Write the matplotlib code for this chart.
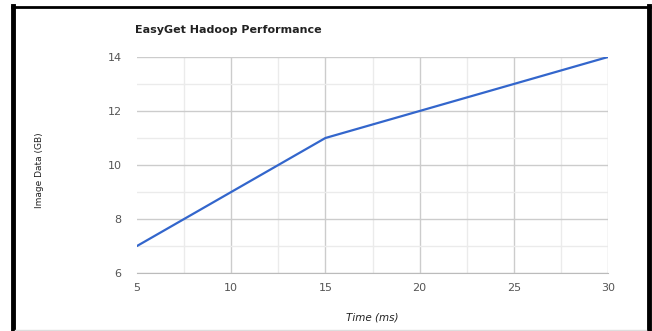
import matplotlib
matplotlib.use('Agg')
from matplotlib import pyplot as plt
from matplotlib.lines import Line2D

time_ms = [5, 10, 15, 20, 25, 30]
image_data = [7, 9, 11, 12, 13, 14]
x_ticks = [5, 10, 15, 20, 25, 30]
y_ticks = [6, 8, 10, 12, 14]

W, H = 652, 331
fig = plt.figure(figsize=(W / 100, H / 100), dpi=100)
ax = fig.add_axes([137 / W, 1 - 273 / H, 471 / W, 216 / H])

ax.plot(time_ms, image_data, color='#3366cc', linewidth=1.6, solid_capstyle='round')
ax.set_xlim(5, 30)
ax.set_ylim(6, 14)
ax.set_xticks(x_ticks)
ax.set_yticks(y_ticks)
ax.set_xticks([7.5, 12.5, 17.5, 22.5, 27.5], minor=True)
ax.set_yticks([7, 9, 11, 13], minor=True)
ax.grid(which='major', color='#cccccc', linewidth=1)
ax.grid(which='minor', color='#ebebeb', linewidth=1)
ax.set_axisbelow(True)
# no vertical gridline on the left edge
ax.xaxis.get_gridlines()[0].set_visible(False)
for side in ['top', 'left', 'right']:
    ax.spines[side].set_visible(False)
ax.spines['bottom'].set_color('#bbbbbb')
ax.tick_params(which='both', length=0)
ax.tick_params(axis='x', pad=7, labelsize=8, labelcolor='#555555')
ax.tick_params(axis='y', pad=11, labelsize=8, labelcolor='#555555')

fig.text(135 / W, 1 - 30 / H, 'EasyGet Hadoop Performance', fontsize=8,
         fontweight='bold', color='#222222', va='center', ha='left')
fig.text(372 / W, 1 - 318 / H, 'Time (ms)', fontsize=7.5, style='italic',
         color='#222222', ha='center', va='center')
fig.text(40 / W, 1 - 170 / H, 'Image Data (GB)', fontsize=6.5, rotation=90,
         color='#222222', ha='center', va='center')

# black frame round the chart
fig.add_artist(Line2D([13.5 / W, 13.5 / W], [0, 1 - 6 / H], color='black', linewidth=3.5))
fig.add_artist(Line2D([648.5 / W, 648.5 / W], [0, 1 - 6 / H], color='black', linewidth=3.5))
fig.add_artist(Line2D([12 / W, 650 / W], [1 - 6.5 / H, 1 - 6.5 / H], color='black', linewidth=2))
fig.add_artist(Line2D([15 / W, 646 / W], [1 - 329.5 / H, 1 - 329.5 / H], color='#dddddd', linewidth=1))

fig.savefig('out.png', dpi=100)
